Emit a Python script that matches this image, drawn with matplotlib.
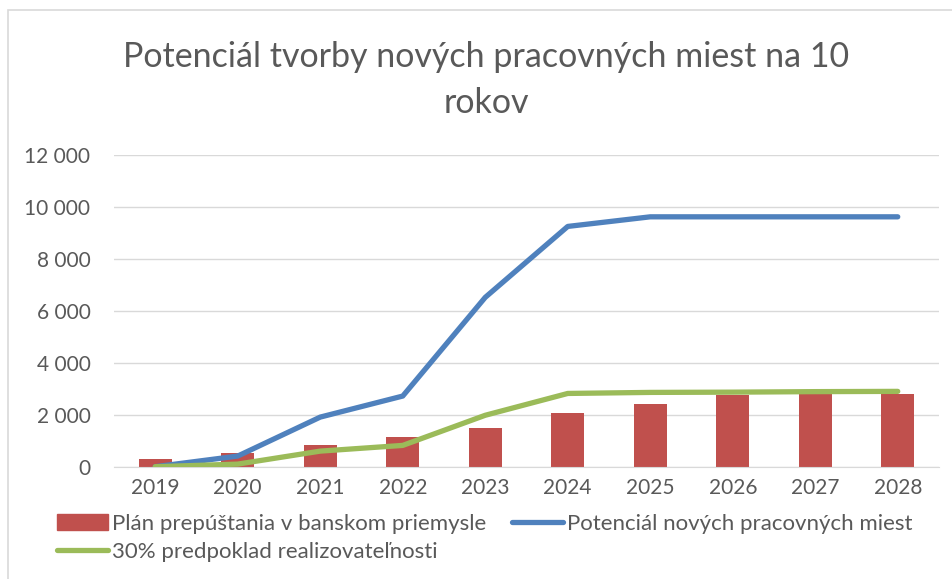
import numpy as np
import matplotlib.pyplot as plt
import matplotlib.ticker as plticker
from matplotlib.patches import Rectangle
from matplotlib.lines import Line2D
from matplotlib import rcParams

rcParams['font.family'] = ['Lato', 'DejaVu Sans']

years = ['2019', '2020', '2021', '2022', '2023', '2024', '2025', '2026', '2027', '2028']
layoffs = [285, 527, 824, 1132, 1500, 2050, 2425, 2760, 2785, 2800]
potential = [0, 410, 1910, 2720, 6520, 9250, 9620, 9620, 9620, 9620]
realistic = [0, 100, 600, 820, 1980, 2820, 2860, 2870, 2890, 2900]

names = ['Plán prepúštania v banskom priemysle',
         'Potenciál nových pracovných miest',
         '30% predpoklad realizovateľnosti']

GRAY = '#595959'
RED, BLUE, GREEN = '#C0504D', '#4F81BD', '#9BBB59'

fig = plt.figure(figsize=(9.52, 5.79), dpi=100)
ax = fig.add_axes([114/952, 1-466.7/579, (939-114)/952, (466.7-155)/579])

x = np.arange(len(years))
ax.bar(x, layoffs, width=0.4, color=RED, zorder=2)
ax.plot(x, potential, color=BLUE, linewidth=3.8, solid_capstyle='round', zorder=3)
ax.plot(x, realistic, color=GREEN, linewidth=3.8, solid_capstyle='round', zorder=4)

ax.set_xlim(-0.5, len(years)-0.5)
ax.set_ylim(0, 12000)
ax.yaxis.set_major_locator(plticker.MultipleLocator(2000))
ax.yaxis.set_major_formatter(plticker.FuncFormatter(lambda v, p: '{:,.0f}'.format(v).replace(',', ' ')))
ax.grid(axis='y', color='#D9D9D9', linewidth=1, zorder=0)
for s in ['top', 'right', 'left']:
    ax.spines[s].set_visible(False)
ax.spines['bottom'].set_color('#D9D9D9')
ax.set_xticks(x)
ax.set_xticklabels(years)
ax.tick_params(axis='both', length=0, labelsize=15, colors=GRAY, pad=8)
ax.tick_params(axis='y', pad=17)

fig.text(486/952, 1-57/579, 'Potenciál tvorby nových pracovných miest na 10',
         ha='center', va='center', fontsize=24.5, color=GRAY)
fig.text(486/952, 1-103/579, 'rokov',
         ha='center', va='center', fontsize=24.5, color=GRAY)

handles = [Rectangle((0, 0), 1, 1, color=RED),
           Line2D([], [], color=BLUE, linewidth=3.8, solid_capstyle='round'),
           Line2D([], [], color=GREEN, linewidth=3.8, solid_capstyle='round')]
leg = fig.legend(handles[:2], names[:2], loc='center left', bbox_to_anchor=(57/952, 1-524/579),
                 ncol=2, frameon=False, fontsize=16, handlelength=2.3, handletextpad=0.18,
                 columnspacing=1.15, borderaxespad=0, borderpad=0)
for t in leg.get_texts():
    t.set_color(GRAY)
leg2 = fig.legend(handles[2:], names[2:], loc='center left', bbox_to_anchor=(57/952, 1-552/579),
                  frameon=False, fontsize=16, handlelength=2.3, handletextpad=0.18,
                  borderaxespad=0, borderpad=0)
for t in leg2.get_texts():
    t.set_color(GRAY)

fig.patches.append(Rectangle((8/952, -0.05), 2, 1.05 - 10/579, transform=fig.transFigure,
                             fill=False, edgecolor='#D9D9D9', linewidth=1.2))

fig.savefig('out.png', dpi=100)
